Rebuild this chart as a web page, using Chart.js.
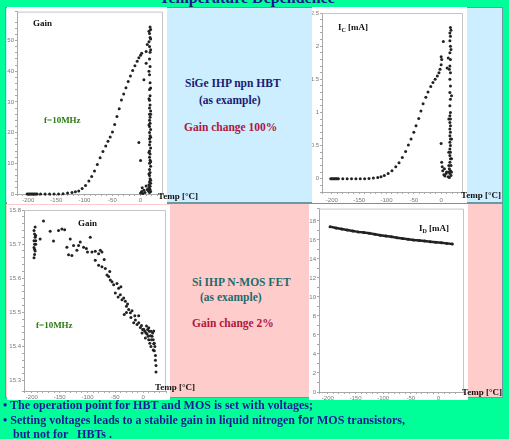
<!DOCTYPE html>
<html lang="en">
<head>
<meta charset="utf-8">
<title>Temperature Dependence</title>
<script src="https://cdn.jsdelivr.net/npm/chart.js@4.4.1/dist/chart.umd.min.js"></script>
<style>
body { margin: 0; width: 509px; height: 439px; background: #00ff99; position: relative; overflow: hidden;
       font-family: "Liberation Serif", "DejaVu Serif", serif; }
.panel { position: absolute; left: 5px; width: 496px; border: 1px solid #6c98a6; }
#blue { top: 7px; height: 194px; background: #cceeff; }
#pink { top: 203px; height: 193px; background: #ffcccc; }
canvas { position: absolute; background: #fff; }
.t { position: absolute; font-weight: bold; white-space: nowrap; line-height: 1; }
.lbl { font-size: 9px; color: #111; }
.green { font-size: 9px; color: #2c7a12; }
.mid { font-size: 11.5px; }
.note { font-size: 12px; color: #1a1a96; left: 3px; }
sub { font-size: 6px; vertical-align: -2px; }
</style>
</head>
<body>
<div class="t" style="left:0; width:494px; text-align:center; top:-10px; font-size:16px; color:#1a1a8c;">Temperature Dependence</div>
<div class="panel" id="blue"></div>
<div class="panel" id="pink"></div>

<canvas id="hbtGain" width="160" height="197" style="left:7px; top:7px;"></canvas>
<canvas id="hbtIc" width="155" height="196" style="left:312px; top:7px;"></canvas>
<canvas id="mosGain" width="163" height="195" style="left:7px; top:205px;"></canvas>
<canvas id="mosId" width="159" height="196" style="left:309px; top:204px;"></canvas>

<!-- labels of the four plots -->
<div class="t lbl" style="left:33px; top:19px;">Gain</div>
<div class="t green" style="left:44px; top:116px;">f=10MHz</div>
<div class="t lbl" style="left:158px; top:192px;">Temp [°C]</div>
<div class="t lbl" style="left:338px; top:23px;">I<sub>C</sub> [mA]</div>
<div class="t lbl" style="left:461px; top:191px;">Temp [°C]</div>
<div class="t lbl" style="left:78px; top:219px;">Gain</div>
<div class="t green" style="left:36px; top:321px;">f=10MHz</div>
<div class="t lbl" style="left:155px; top:383px;">Temp [°C]</div>
<div class="t lbl" style="left:419px; top:224px;">I<sub>D</sub> [mA]</div>
<div class="t lbl" style="left:462px; top:388px;">Temp [°C]</div>

<!-- middle captions -->
<div class="t mid" style="left:185px; top:78px; color:#1b1b70;">SiGe IHP npn HBT</div>
<div class="t mid" style="left:199px; top:95px; color:#1b1b70;">(as example)</div>
<div class="t mid" style="left:184px; top:122px; color:#b0173c;">Gain change 100%</div>
<div class="t mid" style="left:192px; top:277px; color:#1d6b6b;">Si IHP N-MOS FET</div>
<div class="t mid" style="left:200px; top:292px; color:#1d6b6b;">(as example)</div>
<div class="t mid" style="left:192px; top:318px; color:#b0173c;">Gain change 2%</div>

<!-- notes at the bottom -->
<div class="t note" style="top:399px;">• The operation point for HBT and MOS is set with voltages;</div>
<div class="t note" style="top:414px;">• Setting voltages leads to a stabile gain in liquid nitrogen <span style="font-family:'Liberation Sans', sans-serif;">for</span> MOS transistors,</div>
<div class="t note" style="top:428px; left:13px;">but not for &nbsp; HBTs .</div>

<script>
// SiGe HBT gain vs temperature
var hbtGainTemp = [-202, -200, -198, -196, -194, -192, -190, -188, -186, -184, -178, -170, -162, -154, -146, -138, -130, -122, -116,
    -110, -104, -98, -92, -87, -82, -77, -72, -67, -62, -58, -54, -50, -46, -42, -38, -34, -30, -26, -22, -18, -14, -10, -6, -3, 0,
    2, 6, 10, 10, 12, -3, 0, 0, 2, 4, 6, 8, 3, 10, 12,
    17, 18, 16, 17, 15, 16, 17, 16, 17, 16, 17, 16, 17, 16, 17, 16, 18, 16, 17, 16, 17, 16, 18, 16, 17, 16, 17, 16, 18, 16,
    17, 16, 17, 16, 18, 16, 17, 16, 17, 16, 18, 15, 17, 15, 17, 14, 16, 18, 15, 18, 15, 18, 15, 18, 15, 18, 15, 18, 15, 18, 15, 18];
var hbtGainVal = [0, 0, 0, 0, 0, 0, 0, 0, 0, 0, 0, 0, 0, 0, 0, 0.1, 0.3, 0.5, 0.7,
    1.0, 1.8, 2.8, 4.2, 5.7, 7.5, 9.6, 11.8, 13.8, 15.6, 17.2, 18.6, 20.2, 22.6, 25.2, 27.8, 30.6, 32.6, 34.6, 36.6, 38.4, 40.2, 41.8, 43.2, 44.4, 45.2,
    45.8, 37.2, 42.6, 46.4, 48.7, 16.8, 10.9, 0.3, 0.8, 0.2, 1.2, 0.5, 2.0, 2.6, 1.5,
    54.4, 53.6, 52.3, 51.0, 49.6, 48.0, 46.2, 44.0, 41.5, 38.8, 36.2, 34.0, 32.0, 30.5, 29.0, 28.0, 27.0, 26.0, 25.0, 24.0, 23.0, 22.0, 21.0, 20.0,
    19.0, 18.0, 17.0, 16.0, 15.0, 14.0, 13.0, 12.0, 11.0, 10.0, 9.0, 8.0, 7.0, 6.0, 5.0, 4.0, 3.5, 3.0, 2.5, 2.0, 1.5, 1.0, 0.5, 0.8, 1.8, 4.5,
    6.5, 10.5, 13.5, 18.5, 22.5, 26.0, 31.0, 34.5, 40.0, 47.0, 53.0, 50.5];

// SiGe HBT collector current vs temperature
var hbtIcTemp = [-202, -200, -198, -196, -194, -192, -190, -188, -180, -172, -164, -156, -148, -140, -132, -124, -116, -110,
    -104, -97, -90, -83, -77, -71, -65, -60, -55, -50, -46, -41, -37, -33, -28, -24, -19, -15, -11, -7, -4, -2, 0, 1,
    0, 4, 11, 13, 0, 1, 3, 5, 7, 9, 2, 6, 10,
    17, 18, 16, 17, 16, 17, 16, 17, 16, 17, 16, 17, 16, 17, 16, 17, 16, 17, 16, 17, 16, 17, 16, 17, 16, 17, 16, 17, 16, 17, 16,
    18, 15, 17, 14, 16, 18, 13, 15, 19, 14, 19, 14, 19, 14, 19, 15, 18];
var hbtIcVal = [0, 0, 0, 0, 0, 0, 0, 0, 0, 0, 0, 0, 0, 0, 0.005, 0.01, 0.02, 0.03,
    0.05, 0.08, 0.12, 0.18, 0.24, 0.32, 0.41, 0.51, 0.60, 0.70, 0.80, 0.91, 1.02, 1.13, 1.23, 1.31, 1.39, 1.45, 1.50, 1.55, 1.60, 1.65, 1.72, 1.80,
    1.84, 2.07, 1.67, 1.82, 0.53, 0.25, 0.12, 0.06, 0.04, 0.08, 0.18, 0.15, 0.10,
    2.28, 2.24, 2.20, 2.15, 2.08, 2.00, 1.90, 1.80, 1.70, 1.60, 1.50, 1.40, 1.30, 1.20, 1.10, 1.00, 0.95, 0.90, 0.85, 0.80, 0.75, 0.70, 0.65,
    0.60, 0.55, 0.50, 0.45, 0.40, 0.35, 0.30, 0.25, 0.20, 0.15, 0.12, 0.10, 0.08, 0.05, 0.03, 0.02, 0.10, 0.20, 0.30, 0.40, 0.60, 0.90, 1.25,
    1.65, 1.95];

// Si N-MOS gain vs temperature
var mosGainTemp = [-196, -195, -194, -196, -195, -193, -196, -194, -195, -196, -194, -193, -195, -193,
    -185, -179, -167, -161, -152, -146, -141, -137, -131, -134, -128, -125, -119, -116, -113, -107, -102, -100, -95, -92, -86, -80, -77, -74,
    -86, -80, -74, -68, -65, -62, -59, -56, -53, -50, -47, -44, -41, -38, -35, -32, -30, -28, -26, -23, -20, -34, -22, -17, -14, -11, -8, -5,
    -3, -1, 1, 3, 5, 7, 9, 11, 13, 15, 17, 19, 19, 20, 22, 22, 23, 23,
    6, 8, 10, 12, 14, 16, 18, 20, 10, 14, 18, 21, 4, -2, -8, -15, -40, -60, -70, -45, -30];
var mosGainVal = [15.74, 15.73, 15.72, 15.71, 15.70, 15.70, 15.69, 15.68, 15.67, 15.66, 15.75, 15.71, 15.685, 15.725,
    15.715, 15.768, 15.738, 15.709, 15.74, 15.744, 15.742, 15.691, 15.715, 15.669, 15.667, 15.696, 15.682, 15.696, 15.706, 15.691, 15.687,
    15.677, 15.72, 15.677, 15.679, 15.672, 15.682, 15.677,
    15.653, 15.638, 15.634, 15.629, 15.61, 15.605, 15.595, 15.59, 15.581, 15.557, 15.585, 15.571, 15.552, 15.537, 15.542, 15.533, 15.518,
    15.525, 15.509, 15.499, 15.505, 15.494, 15.485, 15.47, 15.478, 15.465, 15.47, 15.456,
    15.462, 15.45, 15.451, 15.445, 15.44, 15.437, 15.43, 15.445, 15.432, 15.42, 15.44, 15.446, 15.408, 15.388, 15.374, 15.36, 15.345, 15.326,
    15.46, 15.45, 15.42, 15.41, 15.40, 15.43, 15.42, 15.41, 15.455, 15.445, 15.39, 15.40, 15.425, 15.44, 15.49, 15.49, 15.575, 15.62, 15.655,
    15.545, 15.50];

// Si N-MOS drain current vs temperature
var mosIdTemp = [-196, -185, -175, -165, -155, -145, -135, -125, -115, -105, -95, -85, -75, -65, -55, -45, -35, -25, -15, -5, 5, 15, 25];
var mosIdVal = [17.4, 17.25, 17.15, 17.05, 16.95, 16.85, 16.78, 16.7, 16.6, 16.5, 16.42, 16.33, 16.23, 16.15, 16.08, 16.0, 15.94, 15.88,
    15.82, 15.76, 15.7, 15.64, 15.58];

var tickFont = { family: 'Liberation Sans', size: 6 };
var tickColor = '#777';
var lineColor = '#a8a8a8';

// light grey box round the plot area
var frame = {
    id: 'frame',
    beforeDatasetsDraw: function (chart) {
        var a = chart.chartArea, g = chart.ctx;
        g.save();
        g.strokeStyle = '#c4c4c4';
        g.lineWidth = 1;
        g.beginPath();
        g.moveTo(a.left, a.top + 0.5);
        g.lineTo(a.right - 0.5, a.top + 0.5);
        g.lineTo(a.right - 0.5, a.bottom);
        g.stroke();
        g.restore();
    }
};

function makeChart(id, temps, vals, o) {
    var pts = temps.map(function (t, i) { return { x: t, y: vals[i] }; });
    return new Chart(document.getElementById(id), {
        type: 'scatter',
        data: {
            datasets: [{
                data: pts,
                pointRadius: 1.5,
                pointBackgroundColor: '#222',
                pointBorderWidth: 0,
                showLine: !!o.line,
                borderColor: '#222',
                borderWidth: o.line ? 2.5 : 0,
                clip: false
            }]
        },
        options: {
            responsive: false,
            animation: false,
            devicePixelRatio: 1,
            layout: { padding: o.pad },
            plugins: { legend: { display: false }, tooltip: { enabled: false } },
            scales: {
                x: {
                    type: 'linear', min: o.xmin, max: o.xmax,
                    afterFit: function (s) { s.height = o.xh; },
                    ticks: {
                        stepSize: 10, autoSkip: false, maxRotation: 0, padding: o.xpad, font: tickFont, color: tickColor,
                        callback: function (v) { return v % 50 === 0 ? String(v) : ''; }
                    },
                    grid: { drawOnChartArea: false, tickLength: 2, color: lineColor },
                    border: { color: lineColor }
                },
                y: {
                    min: o.ymin, max: o.ymax,
                    afterFit: function (s) { s.width = o.yw; },
                    ticks: {
                        stepSize: o.ystep, autoSkip: false, padding: 1, font: tickFont, color: tickColor,
                        callback: o.ylabel
                    },
                    grid: { drawOnChartArea: false, tickLength: 2, color: lineColor },
                    border: { color: lineColor }
                }
            }
        },
        plugins: [frame]
    });
}

function every(n, digits) {
    return function (v) {
        var k = v / n;
        if (v < 0 || Math.abs(k - Math.round(k)) > 1e-6) return '';
        return digits ? v.toFixed(digits) : String(Math.round(v * 10) / 10);
    };
}

makeChart('hbtGain', hbtGainTemp, hbtGainVal, {
    xmin: -220, xmax: 40, ymin: 0, ymax: 59.4, ystep: 2, ylabel: every(10),
    pad: { top: 3, right: 1, left: 0, bottom: 0 }, xh: 10, yw: 10, xpad: 1
});
makeChart('hbtIc', hbtIcTemp, hbtIcVal, {
    xmin: -218, xmax: 40, ymin: -0.2, ymax: 2.5, ystep: 0.1, ylabel: every(0.5),
    pad: { top: 6, right: 1, left: 0, bottom: 0 }, xh: 11, yw: 10, xpad: 3
});
makeChart('mosGain', mosGainTemp, mosGainVal, {
    xmin: -214, xmax: 41, ymin: 15.27, ymax: 15.8, ystep: 0.02, ylabel: every(0.1, 1),
    pad: { top: 5, right: 4, left: 0, bottom: 0 }, xh: 9, yw: 17, xpad: 1
});
makeChart('mosId', mosIdTemp, mosIdVal, {
    xmin: -216, xmax: 46, ymin: 0, ymax: 19.3, ystep: 1, ylabel: every(2),
    pad: { top: 2, right: 2, left: 0, bottom: 0 }, xh: 8, yw: 10, xpad: 1, line: true
});
</script>
</body>
</html>
